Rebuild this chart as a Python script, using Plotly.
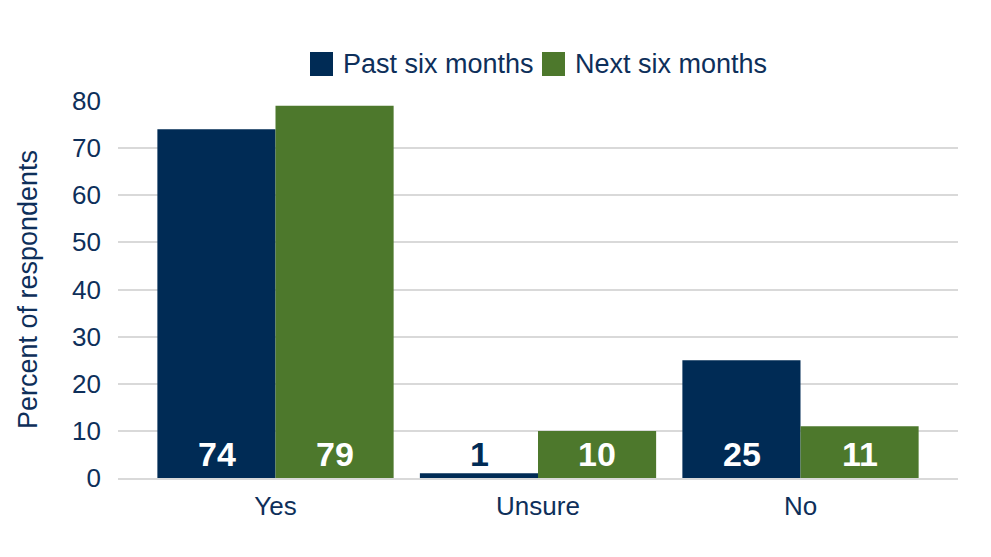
import plotly.graph_objects as go

categories = ["Yes", "Unsure", "No"]
past_six = [74, 1, 25]
next_six = [79, 10, 11]
series_names = ["Past six months", "Next six months"]

navy = "#002B55"
green = "#4D782C"
text_col = "#0E2F5A"
font_fam = "Liberation Sans, Arial"

# the page body has an 8px margin, so the figure is a bit smaller than the window
W, H = 975, 541
L, R, T, B = 110, 25, 93, 71
pw, ph = W - L - R, H - T - B


def px_x(x):
    return (x - L) / pw


def px_y(y):
    return (T + ph - y) / ph


fig = go.Figure()

for name, vals, col in [(series_names[0], past_six, navy), (series_names[1], next_six, green)]:
    fig.add_trace(go.Bar(x=categories, y=vals, name=name, marker_color=col,
                         marker_line_width=0, showlegend=False))

# value labels near the bottom of each bar
for vals, shift in [(past_six, -59), (next_six, 59)]:
    for cat, v in zip(categories, vals):
        fig.add_annotation(x=cat, y=0, text=str(v), showarrow=False, xshift=shift,
                           yanchor="bottom", yshift=3,
                           font=dict(size=34, color="white" if v > 5 else navy,
                                     family=font_fam, weight="bold"))

# hand-made legend with big squares
legend_x = [302, 534]
for name, col, lx in zip(series_names, [navy, green], legend_x):
    fig.add_shape(type="rect", xref="paper", yref="paper",
                  x0=px_x(lx), x1=px_x(lx + 23), y0=px_y(44), y1=px_y(68),
                  fillcolor=col, line_width=0)
    fig.add_annotation(xref="paper", yref="paper", x=px_x(lx + 31), y=px_y(56),
                       xanchor="left", yanchor="middle", showarrow=False, text=name,
                       font=dict(size=27, color=text_col, family=font_fam))

fig.update_layout(
    width=W, height=H,
    barmode="group", bargap=0.1, bargroupgap=0,
    plot_bgcolor="white", paper_bgcolor="white",
    margin=dict(l=L, r=R, t=T, b=B),
    font=dict(family=font_fam, size=26, color=text_col),
    showlegend=False,
)
fig.update_yaxes(range=[0, 80], dtick=10, showgrid=True, gridcolor="#D9D9D9", gridwidth=1.5,
                 zeroline=False, ticks="", ticklabelstandoff=16, automargin=False,
                 tickfont=dict(size=26),
                 title=dict(text="Percent of respondents", font=dict(size=27), standoff=26))
fig.update_xaxes(range=[-0.6, 2.6], showline=True, linecolor="#D9D9D9", linewidth=1.5,
                 ticks="", ticklabelstandoff=4, automargin=False, tickfont=dict(size=26))

fig.write_html("out.html")
